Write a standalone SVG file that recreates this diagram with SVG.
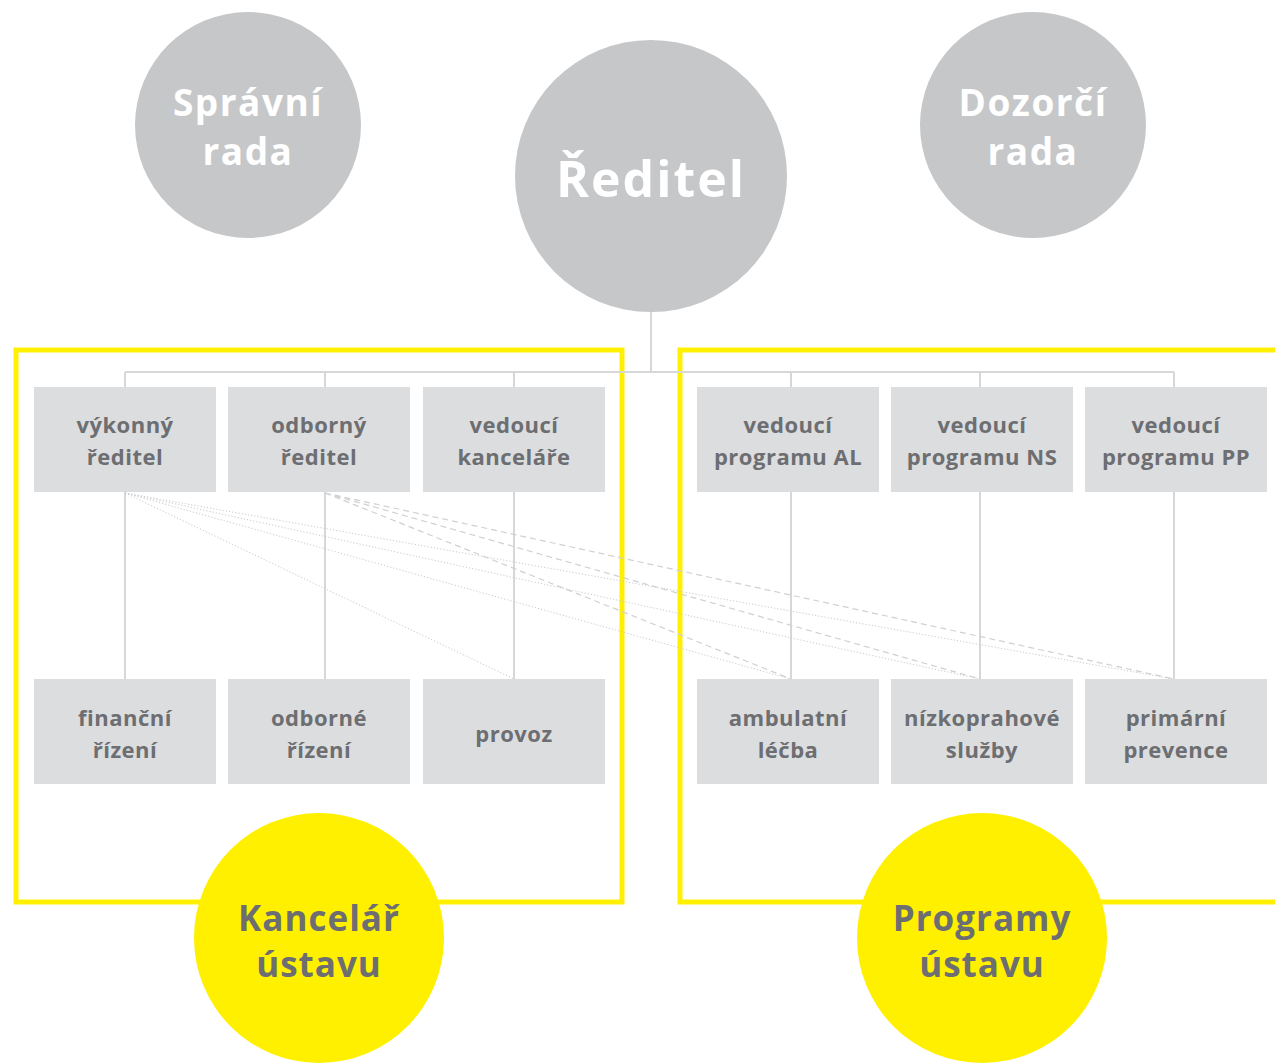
<svg xmlns="http://www.w3.org/2000/svg" width="1275" height="1063" viewBox="0 0 1275 1063">
<style>
.gc{fill:#c6c7c9}
.yc{fill:#fff000}
.box{fill:#dcdddf}
.frame{fill:none;stroke:#fff000;stroke-width:5}
.ln{fill:none;stroke:#d6d7d9;stroke-width:2}
.dot{fill:none;stroke:#c9cacc;stroke-width:1;stroke-dasharray:1.2 2}
.dash{fill:none;stroke:#cfd0d2;stroke-width:1.2;stroke-dasharray:6 4}
text{font-family:"Open Sans","Liberation Sans",sans-serif;font-weight:700;text-anchor:middle}
.bt{font-size:22px;fill:#6d6e71;letter-spacing:0.5px}
.ct{font-size:37px;fill:#ffffff;letter-spacing:1.5px}
.yt{font-size:35px;fill:#6d6e71;letter-spacing:1px}
</style>
<rect width="1275" height="1063" fill="#ffffff"/>
<g id="frames">
<rect class="frame" x="16" y="350" width="606" height="552"/>
<rect class="frame" x="680" y="350" width="600" height="552"/>
</g>
<g id="connectors">
<path class="ln" d="M651 312V372M125 372H1174M125 372V387M325 372V387M514 372V387M791 372V387M980 372V387M1174 372V387"/>
<path class="ln" d="M125 492V679M325 492V679M514 492V679M791 492V679M980 492V679M1174 492V679"/>
<path class="dot" d="M125 493L514 679M125 493L791 679M125 493L980 679M125 493L1174 679"/>
<path class="dash" d="M325 493L791 679M325 493L980 679M325 493L1174 679"/>
</g>
<g id="spravni-rada"><circle class="gc" cx="248" cy="125" r="113"/><text class="ct" x="248" y="116">Správní</text><text class="ct" x="248" y="165">rada</text></g>
<g id="reditel"><circle class="gc" cx="651" cy="176" r="136"/><text class="ct" x="651" y="197" style="font-size:50px;letter-spacing:2px">Ředitel</text></g>
<g id="dozorci-rada"><circle class="gc" cx="1033" cy="125" r="113"/><text class="ct" x="1033" y="116">Dozorčí</text><text class="ct" x="1033" y="165">rada</text></g>
<g id="vykonny-reditel"><rect class="box" x="34" y="387" width="182" height="105"/><text class="bt" x="125" y="433">výkonný</text><text class="bt" x="125" y="465">ředitel</text></g>
<g id="odborny-reditel"><rect class="box" x="228" y="387" width="182" height="105"/><text class="bt" x="319" y="433">odborný</text><text class="bt" x="319" y="465">ředitel</text></g>
<g id="vedouci-kancelare"><rect class="box" x="423" y="387" width="182" height="105"/><text class="bt" x="514" y="433">vedoucí</text><text class="bt" x="514" y="465">kanceláře</text></g>
<g id="vedouci-al"><rect class="box" x="697" y="387" width="182" height="105"/><text class="bt" x="788" y="433">vedoucí</text><text class="bt" x="788" y="465">programu AL</text></g>
<g id="vedouci-ns"><rect class="box" x="891" y="387" width="182" height="105"/><text class="bt" x="982" y="433">vedoucí</text><text class="bt" x="982" y="465">programu NS</text></g>
<g id="vedouci-pp"><rect class="box" x="1085" y="387" width="182" height="105"/><text class="bt" x="1176" y="433">vedoucí</text><text class="bt" x="1176" y="465">programu PP</text></g>
<g id="financni-rizeni"><rect class="box" x="34" y="679" width="182" height="105"/><text class="bt" x="125" y="726">finanční</text><text class="bt" x="125" y="758">řízení</text></g>
<g id="odborne-rizeni"><rect class="box" x="228" y="679" width="182" height="105"/><text class="bt" x="319" y="726">odborné</text><text class="bt" x="319" y="758">řízení</text></g>
<g id="provoz"><rect class="box" x="423" y="679" width="182" height="105"/><text class="bt" x="514" y="742">provoz</text></g>
<g id="ambulantni-lecba"><rect class="box" x="697" y="679" width="182" height="105"/><text class="bt" x="788" y="726">ambulatní</text><text class="bt" x="788" y="758">léčba</text></g>
<g id="nizkoprahove-sluzby"><rect class="box" x="891" y="679" width="182" height="105"/><text class="bt" x="982" y="726">nízkoprahové</text><text class="bt" x="982" y="758">služby</text></g>
<g id="primarni-prevence"><rect class="box" x="1085" y="679" width="182" height="105"/><text class="bt" x="1176" y="726">primární</text><text class="bt" x="1176" y="758">prevence</text></g>
<g id="kancelar-ustavu"><circle class="yc" cx="319" cy="938" r="125"/><text class="yt" x="319" y="931">Kancelář</text><text class="yt" x="319" y="977">ústavu</text></g>
<g id="programy-ustavu"><circle class="yc" cx="982" cy="938" r="125"/><text class="yt" x="982" y="931">Programy</text><text class="yt" x="982" y="977">ústavu</text></g>
</svg>
